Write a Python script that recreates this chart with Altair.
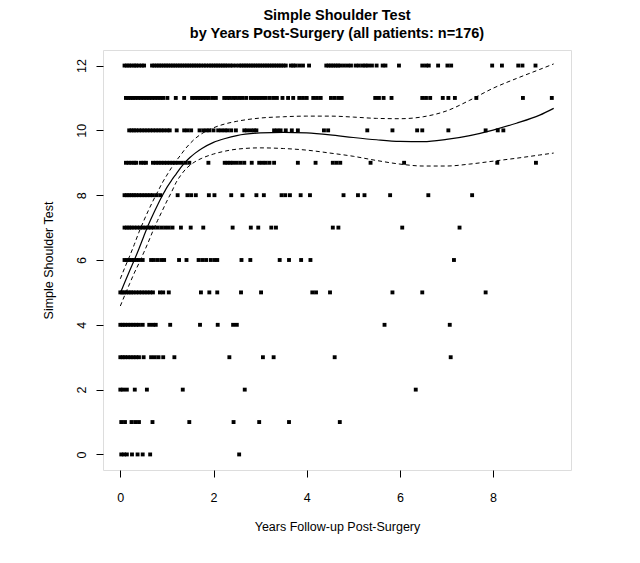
import altair as alt
import pandas as pd

# ---- point data: x positions (years) for each Simple Shoulder Test score ----
row12 = [0.09, 0.14, 0.19, 0.24, 0.30, 0.34, 0.40, 0.46, 0.51,
         0.68, 0.73, 0.78, 0.83, 0.88, 0.93, 0.98, 1.03, 1.08, 1.13, 1.18, 1.23, 1.28,
         1.33, 1.38, 1.43, 1.48, 1.53, 1.58, 1.63, 1.68, 1.73, 1.79, 1.84,
         1.90, 1.95, 2.00, 2.05, 2.10, 2.15, 2.20, 2.25, 2.30, 2.36, 2.41, 2.48,
         2.55, 2.60, 2.65, 2.70, 2.75, 2.80, 2.85, 2.90, 2.95, 3.00, 3.05, 3.10, 3.15,
         3.20, 3.25, 3.30, 3.35, 3.40, 3.45, 3.50, 3.55,
         3.66, 3.71, 3.76, 3.84, 3.92, 4.05,
         4.42, 4.47, 4.52, 4.57, 4.62, 4.67, 4.72, 4.80, 4.88, 4.95, 5.05, 5.12,
         5.20, 5.26, 5.32, 5.40, 5.50,
         5.63, 5.69, 5.98, 6.48, 6.56, 6.62, 6.82, 7.02, 7.10, 7.98, 8.19, 8.54, 8.63, 8.91]
row11 = [0.12, 0.17, 0.22, 0.27, 0.32, 0.38, 0.44, 0.50, 0.56, 0.62, 0.68, 0.74, 0.80, 0.86, 0.92,
         1.01, 1.19, 1.37,
         1.54, 1.60, 1.66, 1.72, 1.78, 1.84, 1.90, 1.98, 2.05,
         2.23, 2.29, 2.35, 2.42, 2.48, 2.55, 2.62, 2.70,
         2.80, 2.86, 2.92, 2.98, 3.05, 3.12, 3.20, 3.28, 3.36,
         3.48, 3.60, 3.71, 3.84, 3.92, 4.00,
         4.14, 4.22, 4.30, 4.52, 4.60, 4.68, 4.75,
         5.47, 5.55, 5.65, 5.82, 6.48, 6.56, 6.65, 6.92, 7.04, 7.18, 7.64, 8.64, 9.26]
row10 = [0.19, 0.24, 0.29, 0.34, 0.40, 0.46, 0.52, 0.58, 0.64, 0.70, 0.76, 0.82, 0.88, 0.94,
         1.01, 1.06, 1.21, 1.37, 1.44, 1.52, 1.70, 1.78, 1.85, 1.91, 2.00, 2.10, 2.17, 2.24,
         2.30, 2.38, 2.48, 2.66, 2.72, 2.80, 2.87, 2.92, 3.30, 3.37, 3.44, 3.55, 3.68, 3.81,
         4.37, 4.46, 5.30, 5.84, 6.37, 6.48, 7.04, 7.84, 8.10, 8.22]
row9 = [0.12, 0.18, 0.24, 0.30, 0.34, 0.44, 0.50, 0.55, 0.70, 0.76, 0.82, 0.88, 0.94, 1.00,
        1.06, 1.12, 1.18, 1.24, 1.32, 1.40, 1.48, 1.89, 2.24, 2.30, 2.36, 2.42, 2.50, 2.58,
        2.66, 2.82, 2.98, 3.05, 3.12, 3.20, 3.30, 3.81, 4.19, 4.56, 4.64, 4.72, 5.37, 6.09,
        8.09, 8.92]
row8 = [0.09, 0.14, 0.19, 0.24, 0.29, 0.34, 0.40, 0.46, 0.52, 0.58, 0.64, 0.70, 0.78, 0.86,
        1.23, 1.44, 1.52, 1.62, 1.90, 2.02, 2.38, 2.62, 2.92, 3.08, 3.46, 3.54, 3.64, 3.87,
        4.07, 4.79, 5.10, 5.24, 5.79, 6.61, 7.55]
row7 = [0.09, 0.14, 0.19, 0.24, 0.30, 0.36, 0.42, 0.48, 0.54, 0.60, 0.66, 0.72, 0.80, 0.88,
        0.96, 1.04, 1.12, 1.30, 1.51, 1.78, 2.41, 2.80, 2.96, 3.24, 3.34, 4.56, 4.68, 6.05, 7.28]
row6 = [0.09, 0.14, 0.19, 0.24, 0.29, 0.34, 0.40, 0.48, 0.66, 0.72, 0.80, 0.88, 0.94, 1.26,
        1.42, 1.68, 1.76, 1.84, 1.94, 2.02, 2.08, 2.60, 2.79, 3.42, 3.62, 3.88, 4.08, 7.16]
row5 = [0.00, 0.04, 0.08, 0.13, 0.18, 0.23, 0.28, 0.34, 0.40, 0.46, 0.52, 0.58, 0.64, 0.70,
        0.85, 0.92, 1.04, 1.73, 1.91, 2.08, 2.59, 3.02, 4.12, 4.20, 4.50, 5.84, 6.48, 7.84]
row4 = [0.00, 0.05, 0.10, 0.16, 0.22, 0.28, 0.34, 0.40, 0.48, 0.62, 0.70, 0.76, 1.07, 1.71,
        2.09, 2.42, 2.50, 5.67, 7.07]
row3 = [0.00, 0.05, 0.10, 0.16, 0.22, 0.28, 0.34, 0.40, 0.50, 0.66, 0.74, 0.82, 0.92, 1.16,
        2.34, 3.06, 3.29, 4.60, 7.09]
row2 = [0.00, 0.06, 0.14, 0.31, 0.57, 1.34, 2.67, 6.34]
row1 = [0.02, 0.10, 0.24, 0.32, 0.40, 0.69, 1.48, 2.43, 2.98, 3.62, 4.71]
row0 = [0.02, 0.08, 0.14, 0.25, 0.37, 0.48, 0.64, 2.55]

rows = {12: row12, 11: row11, 10: row10, 9: row9, 8: row8, 7: row7, 6: row6,
        5: row5, 4: row4, 3: row3, 2: row2, 1: row1, 0: row0}

# ---- smooth fit and confidence band ----
fit_x = [0.0, 0.1, 0.2, 0.3, 0.4, 0.5, 0.6, 0.7, 0.8, 0.9, 1.0, 1.1, 1.2, 1.3, 1.4, 1.5,
         1.6, 1.75, 2.0, 2.25, 2.5, 3.0, 3.5, 4.0, 4.5, 5.0, 5.5, 6.0, 6.5, 7.0, 7.5, 8.0,
         8.5, 9.0, 9.3]
fit_mid = [4.98, 5.33, 5.67, 6.00, 6.35, 6.72, 7.08, 7.40, 7.70, 7.98, 8.24, 8.46, 8.66,
           8.86, 9.03, 9.17, 9.29, 9.44, 9.63, 9.75, 9.84, 9.92, 9.94, 9.92, 9.86, 9.78,
           9.71, 9.66, 9.65, 9.72, 9.84, 10.01, 10.22, 10.47, 10.68]
fit_upper = [5.42, 5.78, 6.12, 6.48, 6.86, 7.20, 7.52, 7.82, 8.10, 8.38, 8.62, 8.85, 9.06,
             9.25, 9.44, 9.60, 9.74, 9.90, 10.08, 10.20, 10.28, 10.38, 10.42, 10.44, 10.44,
             10.41, 10.37, 10.36, 10.42, 10.60, 10.93, 11.30, 11.60, 11.88, 12.05]
fit_lower = [4.58, 4.93, 5.27, 5.60, 5.90, 6.22, 6.55, 6.90, 7.22, 7.52, 7.82, 8.10, 8.40,
             8.62, 8.80, 8.93, 9.03, 9.14, 9.27, 9.36, 9.42, 9.46, 9.44, 9.39, 9.30, 9.20,
             9.07, 8.96, 8.90, 8.90, 8.96, 9.05, 9.14, 9.24, 9.30]

x_ticks = [0, 2, 4, 6, 8]
y_ticks = [0, 2, 4, 6, 8, 10, 12]

pts = pd.DataFrame([{"x": xv, "y": yv} for yv, xs in rows.items() for xv in xs])
fit = pd.DataFrame({"x": fit_x, "mid": fit_mid, "upper": fit_upper, "lower": fit_lower})

FONT = "Liberation Sans"
xscale = alt.Scale(domain=[-0.372, 9.672], nice=False, zero=False)
yscale = alt.Scale(domain=[-0.48, 12.48], nice=False, zero=False)

xaxis = alt.Axis(values=x_ticks, title="Years Follow-up Post-Surgery", grid=False,
                 domain=False, ticks=True, tickSize=7, tickColor="black", tickWidth=1,
                 labelFont=FONT, labelFontSize=12.5, labelColor="black", labelPadding=14,
                 titleFont=FONT, titleFontSize=12.5, titleFontWeight="normal",
                 titleColor="black", titlePadding=17, format="d")
yaxis = alt.Axis(values=y_ticks, title="Simple Shoulder Test", grid=False,
                 domain=False, ticks=True, tickSize=7, tickColor="black", tickWidth=1,
                 labelFont=FONT, labelFontSize=12.5, labelColor="black", labelPadding=8,
                 labelAngle=270, labelAlign="center", labelBaseline="bottom",
                 titleFont=FONT, titleFontSize=12.5, titleFontWeight="normal",
                 titleColor="black", titlePadding=20, format="d")

points = alt.Chart(pts).mark_square(size=15, color="black", opacity=1).encode(
    x=alt.X("x:Q", scale=xscale, axis=xaxis),
    y=alt.Y("y:Q", scale=yscale, axis=yaxis),
)

base = alt.Chart(fit)
mid_line = base.mark_line(color="black", strokeWidth=1.2, interpolate="monotone").encode(
    x=alt.X("x:Q", scale=xscale), y=alt.Y("mid:Q", scale=yscale))
up_line = base.mark_line(color="black", strokeWidth=1, strokeDash=[4, 3],
                         interpolate="monotone").encode(
    x=alt.X("x:Q", scale=xscale), y=alt.Y("upper:Q", scale=yscale))
lo_line = base.mark_line(color="black", strokeWidth=1, strokeDash=[4, 3],
                         interpolate="monotone").encode(
    x=alt.X("x:Q", scale=xscale), y=alt.Y("lower:Q", scale=yscale))

chart = alt.layer(points, mid_line, up_line, lo_line).properties(
    width=468, height=420,
    title=alt.TitleParams(
        text=["Simple Shoulder Test", "by Years Post-Surgery (all patients: n=176)"],
        font=FONT, fontSize=14.5, fontWeight="bold", color="black",
        anchor="middle", lineHeight=18, offset=9),
    autosize=alt.AutoSizeParams(type="none"),
    padding={"left": 95, "top": 42, "right": 50, "bottom": 80},
).configure_view(stroke="black", strokeWidth=1).configure(background="white")

chart.save("out.html", embed_options={"renderer": "svg", "actions": False})
